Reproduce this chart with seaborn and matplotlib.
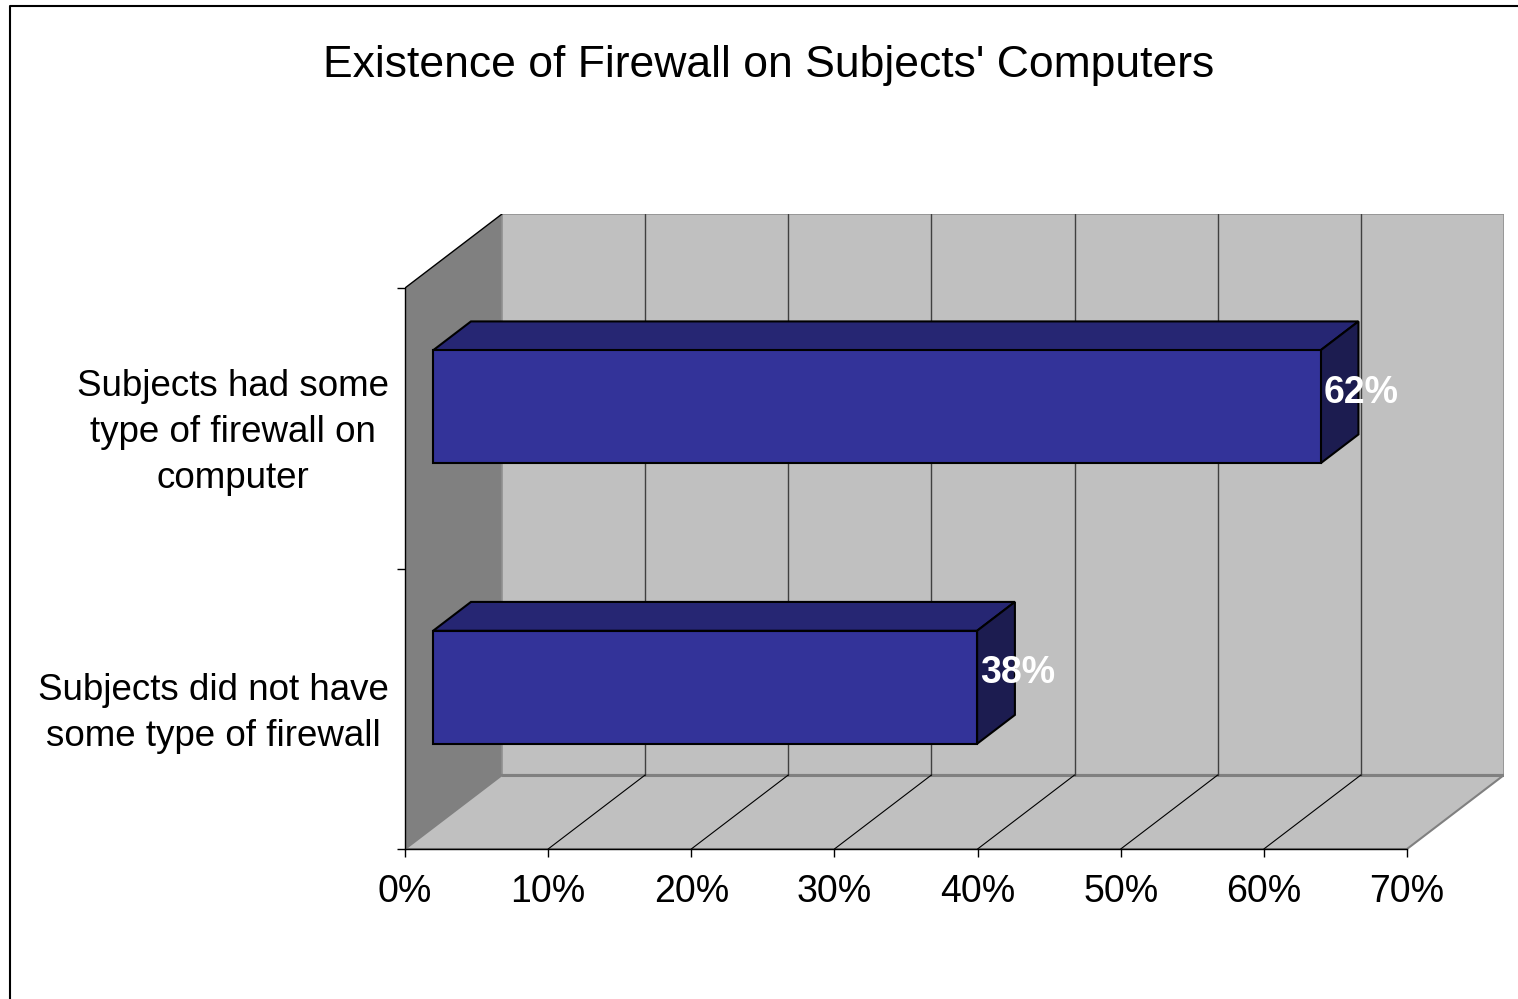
import matplotlib
matplotlib.use('Agg')
import matplotlib.pyplot as plt
from matplotlib.lines import Line2D
from matplotlib.transforms import ScaledTranslation
import seaborn as sns
import pandas as pd

# data
categories = ['Subjects had some\ntype of firewall on\ncomputer',
              'Subjects did not have\nsome type of firewall']
values = [62, 38]
bar_labels = ['62%', '38%']
x_ticks = [0, 10, 20, 30, 40, 50, 60, 70]
x_tick_labels = ['0%', '10%', '20%', '30%', '40%', '50%', '60%', '70%']
title = "Existence of Firewall on Subjects' Computers"

sns.set_theme(style='white')
plt.rcParams['font.family'] = ['Liberation Sans', 'DejaVu Sans']
plt.rcParams['text.color'] = 'black'
plt.rcParams['xtick.color'] = 'black'
plt.rcParams['ytick.color'] = 'black'

W, H = 1518, 999
XMAX = 70
PX_X = 1002 / XMAX          # pixels per percent on the front plane
PX_Y = 280.5                # pixels per category
DX = 97 / PX_X              # depth offset (x, data units)
DY = 74 / PX_Y              # depth offset (y, category units)
F_FRONT, F_DEPTH = 0.29, 0.39   # bar position / thickness in depth

fig = plt.figure(figsize=(W / 100, H / 100), dpi=100)
ax_w = (XMAX + DX) * PX_X
ax_h = (2 + DY) * PX_Y
ax = fig.add_axes([405 / W, 1 - 849 / H, ax_w / W, ax_h / H])

df = pd.DataFrame({'label': categories, 'value': values})
sns.barplot(data=df, x='value', y='label', orient='h', width=113 / PX_Y,
            color='#333399', saturation=1, edgecolor='black', linewidth=1.5,
            ax=ax, zorder=3)
bars = list(ax.patches)

ax.set_xlim(0, XMAX + DX)
ax.set_ylim(1.5, -0.5 - DY)

# walls and floor of the 3D box
top, bot = -0.5, 1.5
ax.fill([0, DX, DX, 0], [top, top - DY, bot - DY, bot], color='#808080', zorder=0, lw=0)
ax.fill([DX, DX + XMAX, DX + XMAX, DX], [top - DY, top - DY, bot - DY, bot - DY],
        facecolor='#C0C0C0', edgecolor='#909090', lw=1.2, zorder=0)
ax.fill([0, DX, DX + XMAX, XMAX], [bot, bot - DY, bot - DY, bot],
        facecolor='#C0C0C0', edgecolor='#808080', lw=1.5, zorder=0.2)
ax.plot([DX, DX + XMAX], [bot - DY, bot - DY], color='#808080', lw=2.2, zorder=0.3)
ax.plot([0, DX], [top, top - DY], color='black', lw=1, zorder=0.4)
for t in x_ticks[1:-1]:
    ax.plot([DX + t, DX + t], [top - DY, bot - DY], color='#404040', lw=1, zorder=0.5)
    ax.plot([t, DX + t], [bot, bot - DY], color='black', lw=0.8, zorder=0.5)

# 3D sides of the bars
for p, lab in zip(bars, bar_labels):
    p.set_x(p.get_x() + F_FRONT * DX)
    p.set_y(p.get_y() - F_FRONT * DY)
    x0, x1 = p.get_x(), p.get_x() + p.get_width()
    yt, yb = p.get_y(), p.get_y() + p.get_height()
    ddx, ddy = F_DEPTH * DX, F_DEPTH * DY
    ax.fill([x0, x1, x1 + ddx, x0 + ddx], [yt, yt, yt - ddy, yt - ddy],
            facecolor='#262673', edgecolor='black', lw=1.5, zorder=2.8)
    ax.fill([x1, x1, x1 + ddx, x1 + ddx], [yt, yb, yb - ddy, yt - ddy],
            facecolor='#1C1C50', edgecolor='black', lw=1.5, zorder=2.8)
    yc = (yt + yb) / 2
    ax.text(x1 + 0.2, yc - 0.19 * DY, lab, color='white', fontsize=27,
            fontweight='bold', ha='left', va='center', zorder=5)

# axes
for s in ['top', 'right']:
    ax.spines[s].set_visible(False)
ax.spines['left'].set_bounds(top, bot)
ax.spines['bottom'].set_bounds(0, XMAX)
for s in ['left', 'bottom']:
    ax.spines[s].set_color('black')
    ax.spines[s].set_linewidth(1)

ax.set_xticks(x_ticks)
ax.set_xticklabels(x_tick_labels)
ax.set_yticks([top, 0.5, bot], minor=True)
ax.tick_params(axis='x', which='major', length=5.8, width=1, color='black',
               direction='out', bottom=True, labelsize=27, pad=12.5)
ax.tick_params(axis='y', which='minor', length=5.8, width=1, color='black',
               direction='out', left=True)
ax.tick_params(axis='y', which='major', length=0, labelsize=26.5, pad=11.5)
shift = ScaledTranslation(0, 5 / 100, fig.dpi_scale_trans)
for lbl in ax.get_yticklabels():
    lbl.set_multialignment('center')
    lbl.set_linespacing(1.4)
    lbl.set_transform(lbl.get_transform() + shift)
ax.set_xlabel('')
ax.set_ylabel('')
ax.grid(False)

fig.text(769 / W, 1 - 65 / H, title, fontsize=32, ha='center', va='center')

# chart border
fig.add_artist(Line2D([9.5 / W, 9.5 / W, 1], [0, 1 - 5.5 / H, 1 - 5.5 / H],
                      color='black', lw=1.5, transform=fig.transFigure))

fig.savefig('out.png', dpi=100)
